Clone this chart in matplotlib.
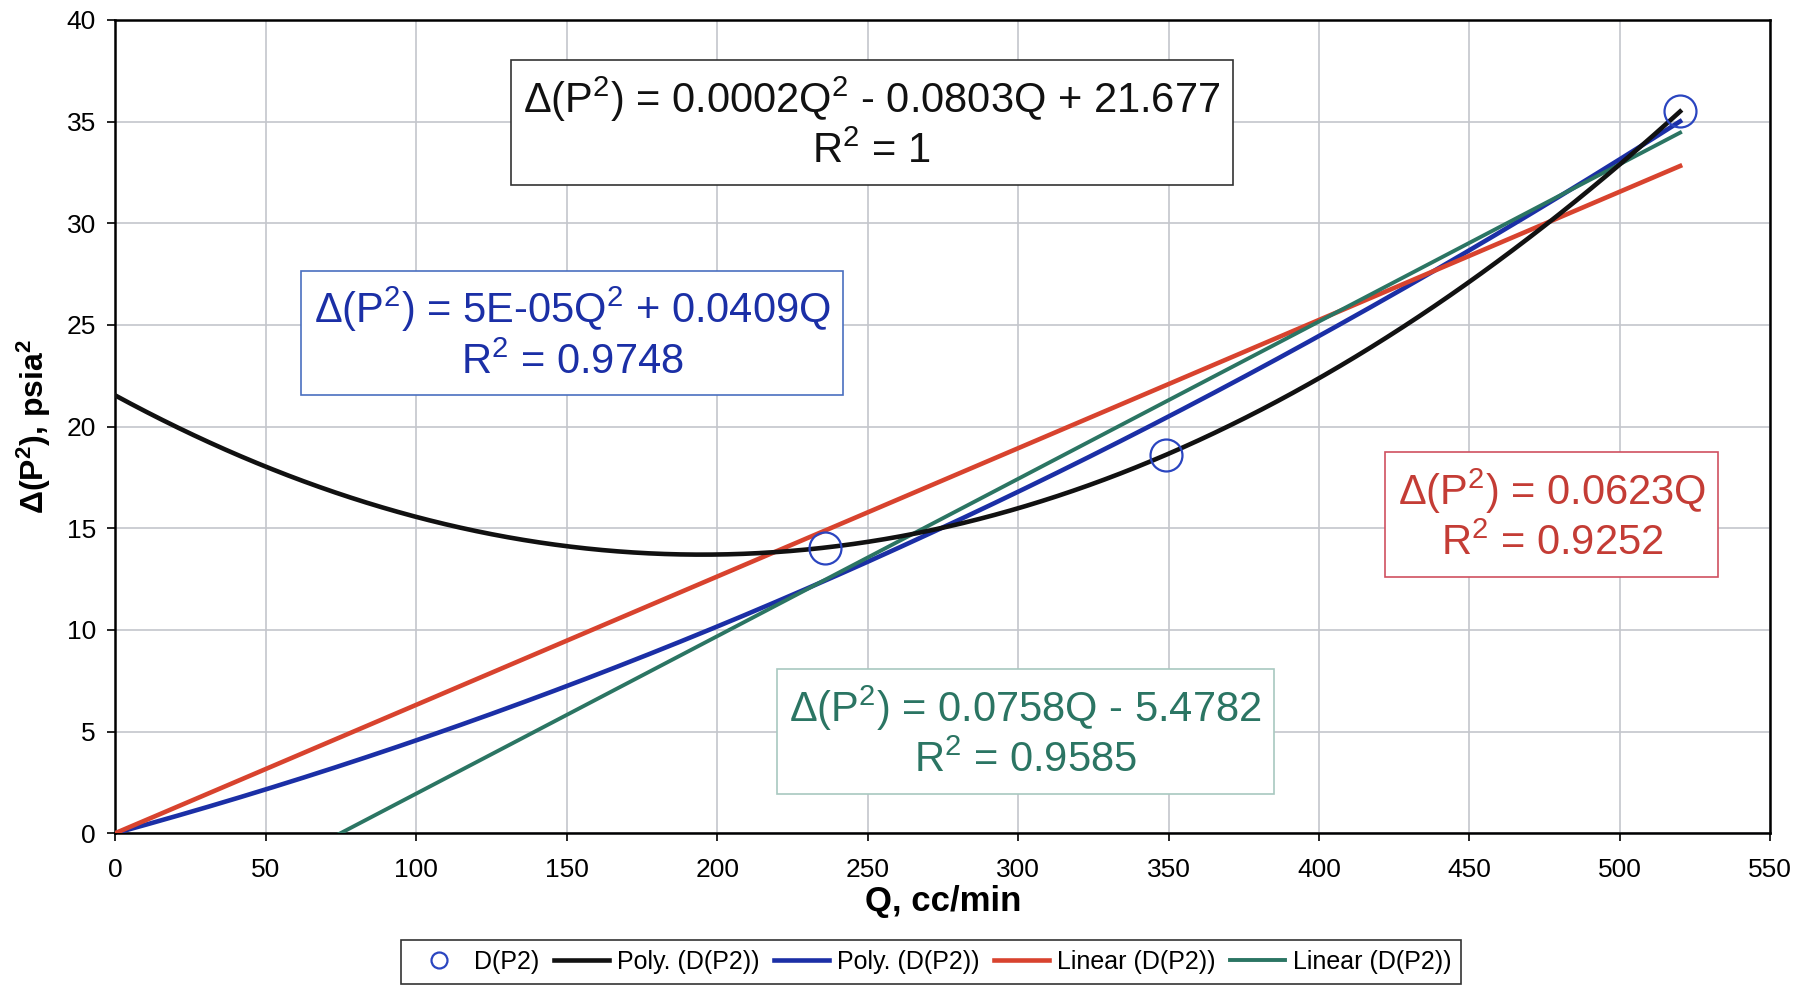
#!/usr/bin/env python3
# -*- coding: utf-8 -*-

import numpy as np
import matplotlib
matplotlib.use("Agg")
import matplotlib.pyplot as plt

q_data = [236, 349, 520]
dp2_data = [14.05, 18.6, 35.5]

x_ticks = [0, 50, 100, 150, 200, 250, 300, 350, 400, 450, 500, 550]
y_ticks = [0, 5, 10, 15, 20, 25, 30, 35, 40]

eq_black = "\u0394(P$^2$) = 0.0002Q$^2$ - 0.0803Q + 21.677\nR$^2$ = 1"
eq_blue = "\u0394(P$^2$) = 5E-05Q$^2$ + 0.0409Q\nR$^2$ = 0.9748"
eq_red = "\u0394(P$^2$) = 0.0623Q\nR$^2$ = 0.9252"
eq_green = "\u0394(P$^2$) = 0.0758Q - 5.4782\nR$^2$ = 0.9585"

c_black = "#111111"
c_blue = "#1b2fa6"
c_red = "#d8432e"
c_green = "#2b7563"


def main():
    plt.rcParams['font.family'] = ['Liberation Sans', 'DejaVu Sans']
    plt.rcParams['mathtext.default'] = 'regular'

    x = np.array(q_data, dtype=float)
    y = np.array(dp2_data, dtype=float)

    # trendlines fitted to the measured points
    p_full = np.polyfit(x, y, 2)
    # quadratic through origin
    A = np.vstack([x ** 2, x]).T
    a2, a1 = np.linalg.lstsq(A, y, rcond=None)[0]
    k0 = np.sum(x * y) / np.sum(x * x)
    p_lin = np.polyfit(x, y, 1)

    qq = np.linspace(0, x.max(), 300)

    fig = plt.figure(figsize=(18.01, 9.99), dpi=100)
    ax = fig.add_axes([0.064, 0.166, 0.919, 0.814])

    ax.plot(x, y, 'o', mfc='none', mec='#2a45c0', ms=23, mew=1.6,
            label="D(P2)", zorder=6, clip_on=False)
    ax.plot(qq, np.polyval(p_full, qq), color=c_black, lw=3.3,
            label="Poly. (D(P2))", zorder=4)
    ax.plot(qq, a2 * qq ** 2 + a1 * qq, color=c_blue, lw=3.3,
            label="Poly. (D(P2))", zorder=3)
    ax.plot(qq, k0 * qq, color=c_red, lw=3.3, label="Linear (D(P2))", zorder=3)
    ax.plot(qq, np.polyval(p_lin, qq), color=c_green, lw=2.8,
            label="Linear (D(P2))", zorder=3)

    ax.set_xlim(0, 550)
    ax.set_ylim(0, 40)
    ax.set_xticks(x_ticks)
    ax.set_yticks(y_ticks)
    ax.grid(True, color='#c4c6cc', lw=1.2)
    ax.set_axisbelow(True)
    for s in ax.spines.values():
        s.set_linewidth(1.8)
    ax.tick_params(axis='x', labelsize=19, pad=12, length=6, width=1.2)
    ax.tick_params(axis='y', labelsize=19, pad=8, length=6, width=1.2)

    ax.set_xlabel("Q, cc/min", fontsize=25, fontweight='bold', labelpad=2)
    ax.set_ylabel("\u0394(P$^2$), psia$^2$", fontsize=23, fontweight='bold',
                  labelpad=10)

    boxes = [
        (eq_black, 0.457, 0.873, c_black, '#333333'),
        (eq_blue, 0.276, 0.614, c_blue, '#4a6fc0'),
        (eq_red, 0.868, 0.391, '#c43c35', '#d05060'),
        (eq_green, 0.550, 0.124, c_green, '#a8c8c0'),
    ]
    for txt, bx, by, tc, ec in boxes:
        ax.text(bx, by, txt, transform=ax.transAxes, ha='center', va='center',
                multialignment='center', fontsize=30, color=tc, zorder=7,
                linespacing=1.25,
                bbox=dict(boxstyle='square,pad=0.3', fc='white', ec=ec, lw=1.2))

    leg = ax.legend(loc='center', bbox_to_anchor=(0.493, -0.158), ncol=5,
                    fontsize=18, frameon=True, fancybox=False, edgecolor='black',
                    handlelength=2.2, handletextpad=0.3, columnspacing=0.6,
                    borderpad=0.4, markerscale=0.5)
    leg.get_frame().set_linewidth(1.2)

    fig.savefig("out.png", dpi=100, facecolor='white')


if __name__ == "__main__":
    main()
